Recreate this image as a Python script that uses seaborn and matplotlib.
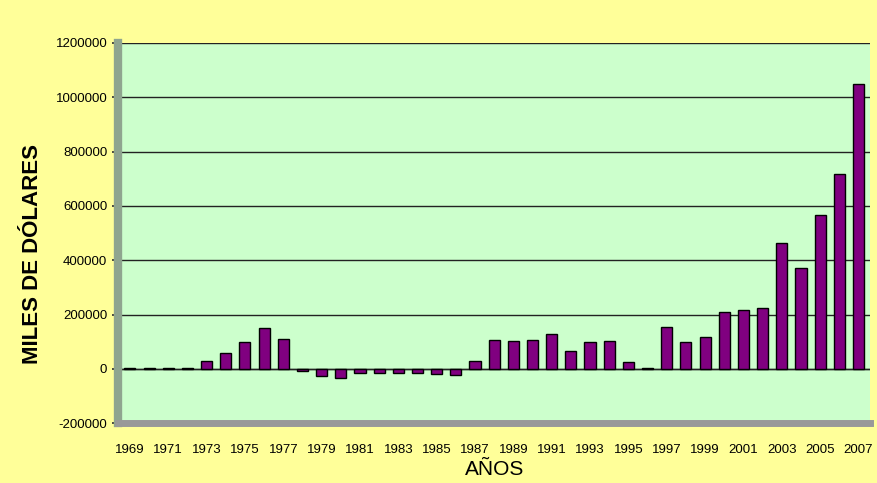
import numpy as np
import pandas as pd
import matplotlib
matplotlib.use("Agg")
import matplotlib.pyplot as plt
import seaborn as sns

years = list(range(1969, 2008))
values = [2000, 2000, 2000, 2000, 30000, 58000, 100000, 150000, 108000,
          -8000, -25000, -35000, -15000, -15000, -15000, -15000, -20000, -22000,
          28000, 105000, 103000, 106000, 128000, 66000, 100000, 102000, 26000,
          2000, 155000, 100000, 116000, 210000, 217000, 225000, 462000, 373000,
          565000, 716000, 1050000]
yticks = list(range(-200000, 1200001, 200000))
xtick_labels = [str(y) for y in years[::2]]

sns.set_theme(style="white")
plt.rcParams['font.family'] = ['Liberation Sans', 'DejaVu Sans']
plt.rcParams['text.color'] = 'black'
plt.rcParams['axes.labelcolor'] = 'black'
plt.rcParams['xtick.color'] = 'black'
plt.rcParams['ytick.color'] = 'black'

df = pd.DataFrame({"year": [str(y) for y in years], "value": values})

fig = plt.figure(figsize=(8.77, 4.83), dpi=100)
fig.patch.set_facecolor("#FFFF99")
ax = fig.add_axes([0.135, 0.124, 0.857, 0.787])
ax.set_facecolor("#CCFFCC")

sns.barplot(data=df, x="year", y="value", color="#800080", width=0.58,
            edgecolor="black", linewidth=1.0, saturation=1, ax=ax, zorder=3)

ax.set_ylim(-200000, 1200000)
ax.set_yticks(yticks)
ax.set_yticklabels([str(v) for v in yticks], fontsize=9.5)
ax.yaxis.grid(True, color="#222222", linewidth=1.0, zorder=0)
ax.set_axisbelow(True)
ax.axhline(0, color="#222222", linewidth=1.0, zorder=2)

ax.set_xticks(range(0, len(years), 2))
ax.set_xticklabels(xtick_labels, fontsize=9.5)
ax.set_xlim(-0.6, len(years) - 0.4)
ax.tick_params(axis="x", length=0, pad=15)
ax.tick_params(axis="y", length=4, left=True, color="#333333", pad=4)

ax.set_xlabel("AÑOS", fontsize=15, labelpad=3)
ax.set_ylabel("MILES DE DÓLARES", fontsize=16, fontweight="bold")
ax.yaxis.set_label_coords(-0.100, 0.445)

for side in ["top", "right"]:
    ax.spines[side].set_visible(False)
ax.spines["left"].set_color("#8FA58F")
ax.spines["left"].set_linewidth(6)
ax.spines["bottom"].set_color("#999999")
ax.spines["bottom"].set_linewidth(5)

fig.savefig("out.png", dpi=100, facecolor=fig.get_facecolor())
